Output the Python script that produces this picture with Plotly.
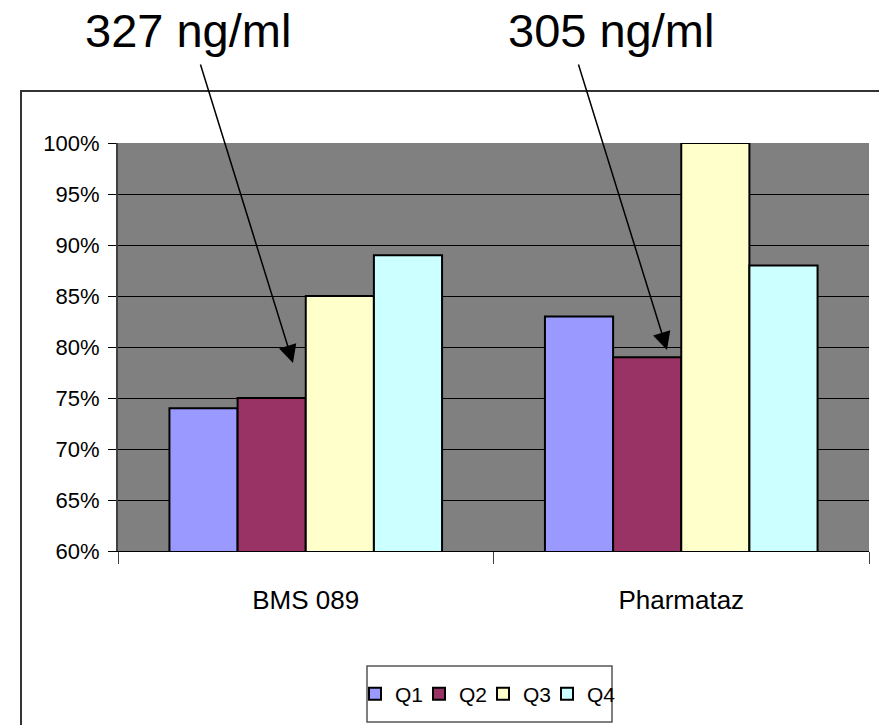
import plotly.graph_objects as go

categories = ["BMS 089", "Pharmataz"]
series_names = ["Q1", "Q2", "Q3", "Q4"]
q1 = [0.74, 0.83]
q2 = [0.75, 0.79]
q3 = [0.85, 1.00]
q4 = [0.89, 0.88]
series_values = [q1, q2, q3, q4]
colors = ["#9999FF", "#993366", "#FFFFCC", "#CCFFFF"]
y_ticks = [0.60, 0.65, 0.70, 0.75, 0.80, 0.85, 0.90, 0.95, 1.00]
notes = ["327 ng/ml", "305 ng/ml"]

W, H = 879, 725
L, R, T, B = 118, 10, 143, 174
pw = W - L - R
ph = H - T - B


def px(x):
    return (x - L) / pw


def py(y):
    return (H - B - y) / ph


face = "Liberation Sans, Arial"

fig = go.Figure()
for i, (name, vals, col) in enumerate(zip(series_names, series_values, colors)):
    fig.add_trace(go.Bar(
        name=name, x=categories, y=vals,
        marker=dict(color=col, line=dict(color="black", width=2)),
        legendwidth=19 if i < len(series_names) - 1 else 34,
    ))

fig.update_layout(
    width=W, height=H,
    margin=dict(l=L, r=R, t=T, b=B),
    paper_bgcolor="white",
    plot_bgcolor="#808080",
    barmode="group",
    bargap=0.274,
    bargroupgap=0,
    showlegend=True,
    legend=dict(
        orientation="h",
        x=px(355), y=py(694), xanchor="left", yanchor="middle",
        bgcolor="rgba(0,0,0,0)", borderwidth=0,
        font=dict(family=face, size=21, color="black"),
        itemwidth=30,
        tracegroupgap=0,
    ),
    font=dict(family=face, color="black"),
)

fig.update_yaxes(
    range=[0.6, 1.0],
    tickvals=y_ticks,
    tickformat=".0%",
    showgrid=True, gridcolor="black", gridwidth=1,
    showline=True, linecolor="#404040", linewidth=2,
    ticks="outside", ticklen=8, tickcolor="black",
    ticklabelstandoff=4,
    tickfont=dict(family=face, size=22, color="black"),
    zeroline=False,
)
fig.update_xaxes(
    showline=True, linecolor="black", linewidth=1,
    ticks="outside", ticklen=12, tickcolor="#404040", tickson="boundaries",
    ticklabelstandoff=26,
    tickfont=dict(family=face, size=26, color="black"),
    showgrid=False,
)

# outer chart frame
fig.add_shape(type="rect", xref="paper", yref="paper",
              x0=px(21), x1=px(900), y0=py(760), y1=py(91),
              line=dict(color="#333333", width=2), fillcolor="rgba(0,0,0,0)",
              layer="below")
# legend box
fig.add_shape(type="rect", xref="paper", yref="paper",
              x0=px(367), x1=px(612), y0=py(722), y1=py(666),
              line=dict(color="#555555", width=1.5), fillcolor="white",
              layer="below")

# notes text
for txt, cx in zip(notes, [188, 611]):
    fig.add_annotation(text=txt, xref="paper", yref="paper",
                       x=px(cx), y=py(30), showarrow=False,
                       font=dict(family=face, size=47, color="black"),
                       xanchor="center", yanchor="middle")

# arrows
for (hx, hy), (tx, ty) in [((293, 363), (200, 63)), ((667, 350), (578, 63))]:
    fig.add_annotation(text="", xref="paper", yref="paper",
                       x=px(hx), y=py(hy), ax=tx - hx, ay=ty - hy,
                       showarrow=True, arrowhead=2, arrowsize=2.4,
                       arrowwidth=1.5, arrowcolor="black")

fig.write_html("out.html")
